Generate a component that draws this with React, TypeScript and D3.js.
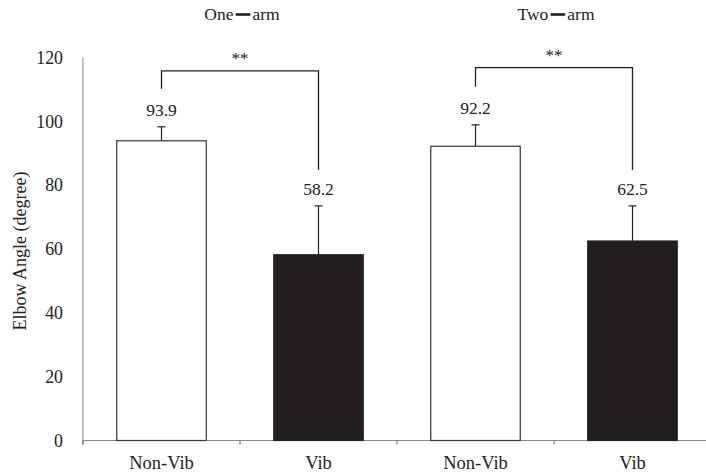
import React from "react";
import * as d3 from "d3";

const categories = ["Non-Vib", "Vib", "Non-Vib", "Vib"];
const means = [93.9, 58.2, 92.2, 62.5];
const sds = [4.4, 15.3, 6.7, 11.0];
const groups = ["One", "Two"];
const yTicks = [0, 20, 40, 60, 80, 100, 120];
const bracketLevels = [115.8, 116.8];
const sigLabels = ["**", "**"];

const W = 706;
const H = 472;
const FONT = "'Liberation Serif', 'Times New Roman', serif";

export default function App() {
  const x0 = 83;
  const y = d3.scaleLinear().domain([0, 120]).range([440.5, 57.5]);
  const x = d3
    .scaleBand<number>()
    .domain(categories.map((_, i) => i))
    .range([x0, 711])
    .paddingInner(0.43)
    .paddingOuter(0.215);
  const bw = x.bandwidth();
  const step = x.step();
  const cx = (i: number) => (x(i) as number) + bw / 2;
  const boundaries = [0, 1, 2, 3].map((i) => x0 + i * step);
  const labelY = (i: number) => y(means[i] + sds[i]) - 17;

  return (
    <svg width={W} height={H} style={{ display: "block", position: "absolute", left: 0, top: 0 }}>
      <rect width={W} height={H} fill="#fff" />
      {/* axes */}
      <line x1={x0} x2={x0} y1={y(120)} y2={y(0) + 4} stroke="#888" strokeWidth={1} />
      <line x1={x0} x2={W} y1={y(0)} y2={y(0)} stroke="#888" strokeWidth={1} />
      {boundaries.map((b, i) => (
        <line key={i} x1={b} x2={b} y1={y(0)} y2={y(0) + 4} stroke="#666" strokeWidth={1} />
      ))}
      {yTicks.map((t) => (
        <text key={t} x={63} y={y(t)} dy="0.35em" textAnchor="end" fontFamily={FONT} fontSize={17.8} fill="#222">
          {t}
        </text>
      ))}
      <text
        transform={`translate(20,251) rotate(-90)`}
        textAnchor="middle"
        dy="0.35em"
        fontFamily={FONT}
        fontSize={18}
        fill="#222"
      >
        Elbow Angle (degree)
      </text>
      {/* bars */}
      {means.map((m, i) => (
        <g key={i}>
          <line x1={cx(i)} x2={cx(i)} y1={y(m)} y2={y(m + sds[i])} stroke="#222" strokeWidth={1.2} />
          <line x1={cx(i) - 4} x2={cx(i) + 4} y1={y(m + sds[i])} y2={y(m + sds[i])} stroke="#222" strokeWidth={1.2} />
          <rect
            x={x(i)}
            y={y(m)}
            width={bw}
            height={y(0) - y(m)}
            fill={i % 2 === 0 ? "#fff" : "#231f20"}
            stroke={i % 2 === 0 ? "#333" : "#231f20"}
            strokeWidth={1.2}
          />
          <text x={cx(i)} y={labelY(i)} dy="0.35em" textAnchor="middle" fontFamily={FONT} fontSize={17.5} fill="#222">
            {m.toFixed(1)}
          </text>
          <text x={cx(i)} y={463} dy="0.35em" textAnchor="middle" fontFamily={FONT} fontSize={18.5} fill="#222">
            {categories[i]}
          </text>
        </g>
      ))}
      {/* brackets and titles */}
      {groups.map((g, gi) => {
        const a = gi * 2;
        const b = a + 1;
        const top = y(bracketLevels[gi]);
        const la = labelY(a) - 21;
        const lb = labelY(b) - 19;
        const mid = (cx(a) + cx(b)) / 2;
        return (
          <g key={g}>
            <path
              d={`M${cx(a)},${la}V${top}H${cx(b)}V${lb}`}
              fill="none"
              stroke="#222"
              strokeWidth={1.3}
            />
            <text x={mid} y={top - 13} dy="0.35em" textAnchor="middle" fontFamily={FONT} fontSize={17} fill="#222">
              {sigLabels[gi]}
            </text>
            <text x={mid + 2} y={20} textAnchor="middle" fontFamily={FONT} fontSize={17.5} fill="#222">
              {g}
              <tspan dx={3} dy={-3} fontSize={13} fontWeight="bold" stroke="#222" strokeWidth={1.4}>{"\u2014"}</tspan>
              <tspan dx={3} dy={3}>arm</tspan>
            </text>
          </g>
        );
      })}
    </svg>
  );
}
